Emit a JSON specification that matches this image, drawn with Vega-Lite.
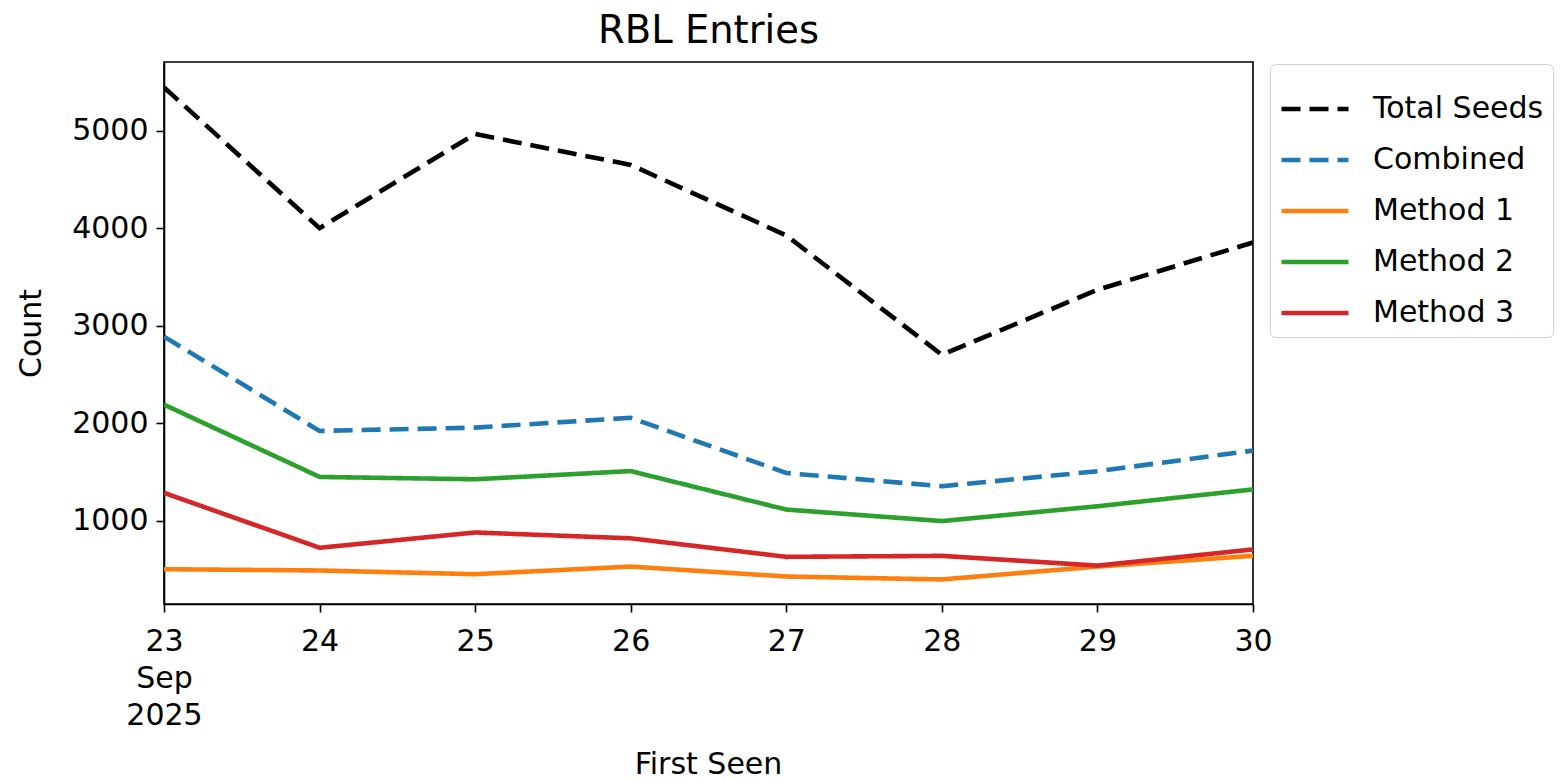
{
  "$schema": "https://vega.github.io/schema/vega-lite/v6.json",
  "autosize": {"type": "none"},
  "padding": {"left": 164, "top": 62, "right": 315, "bottom": 175},
  "width": 1089,
  "height": 542,
  "background": "white",
  "title": {
    "text": "RBL Entries",
    "font": "DejaVu Sans",
    "fontSize": 38.5,
    "fontWeight": "normal",
    "color": "black",
    "anchor": "middle",
    "offset": 11
  },
  "config": {
    "font": "DejaVu Sans",
    "view": {"stroke": "black", "strokeWidth": 1.6},
    "axis": {
      "grid": false,
      "domainColor": "black",
      "domainWidth": 1.6,
      "tickColor": "black",
      "tickWidth": 1.6,
      "tickSize": 8,
      "labelFont": "DejaVu Sans",
      "labelFontSize": 30,
      "labelColor": "black",
      "titleFont": "DejaVu Sans",
      "titleFontSize": 30,
      "titleFontWeight": "normal",
      "titleColor": "black"
    },
    "legend": {
      "orient": "none",
      "legendX": 1106,
      "legendY": 2,
      "padding": 9,
      "strokeColor": "#d0d0d0",
      "fillColor": "white",
      "cornerRadius": 5,
      "labelFont": "DejaVu Sans",
      "labelFontSize": 30,
      "labelColor": "black",
      "labelLimit": 400,
      "symbolType": "stroke",
      "symbolSize": 4489,
      "labelOffset": 22,
      "rowPadding": -24
    }
  },
  "data": {
    "values": [
      {"day": 23, "series": "Total Seeds", "count": 5448},
      {"day": 24, "series": "Total Seeds", "count": 4003},
      {"day": 25, "series": "Total Seeds", "count": 4969},
      {"day": 26, "series": "Total Seeds", "count": 4652},
      {"day": 27, "series": "Total Seeds", "count": 3928},
      {"day": 28, "series": "Total Seeds", "count": 2703},
      {"day": 29, "series": "Total Seeds", "count": 3370},
      {"day": 30, "series": "Total Seeds", "count": 3856},
      {"day": 23, "series": "Combined", "count": 2890},
      {"day": 24, "series": "Combined", "count": 1922},
      {"day": 25, "series": "Combined", "count": 1956},
      {"day": 26, "series": "Combined", "count": 2057},
      {"day": 27, "series": "Combined", "count": 1490},
      {"day": 28, "series": "Combined", "count": 1355},
      {"day": 29, "series": "Combined", "count": 1508},
      {"day": 30, "series": "Combined", "count": 1720},
      {"day": 23, "series": "Method 1", "count": 503},
      {"day": 24, "series": "Method 1", "count": 490},
      {"day": 25, "series": "Method 1", "count": 452},
      {"day": 26, "series": "Method 1", "count": 530},
      {"day": 27, "series": "Method 1", "count": 428},
      {"day": 28, "series": "Method 1", "count": 398},
      {"day": 29, "series": "Method 1", "count": 530},
      {"day": 30, "series": "Method 1", "count": 640},
      {"day": 23, "series": "Method 2", "count": 2192},
      {"day": 24, "series": "Method 2", "count": 1450},
      {"day": 25, "series": "Method 2", "count": 1426},
      {"day": 26, "series": "Method 2", "count": 1510},
      {"day": 27, "series": "Method 2", "count": 1115},
      {"day": 28, "series": "Method 2", "count": 997},
      {"day": 29, "series": "Method 2", "count": 1149},
      {"day": 30, "series": "Method 2", "count": 1322},
      {"day": 23, "series": "Method 3", "count": 1287},
      {"day": 24, "series": "Method 3", "count": 723},
      {"day": 25, "series": "Method 3", "count": 880},
      {"day": 26, "series": "Method 3", "count": 820},
      {"day": 27, "series": "Method 3", "count": 630},
      {"day": 28, "series": "Method 3", "count": 640},
      {"day": 29, "series": "Method 3", "count": 540},
      {"day": 30, "series": "Method 3", "count": 706}
    ]
  },
  "mark": {"type": "line", "clip": true},
  "encoding": {
    "x": {
      "field": "day",
      "type": "quantitative",
      "scale": {"domain": [23, 30], "nice": false, "zero": false},
      "axis": {
        "title": "First Seen",
        "values": [23, 24, 25, 26, 27, 28, 29, 30],
        "labelExpr": "datum.value == 23 ? ['23', 'Sep', '2025'] : datum.label",
        "labelLineHeight": 37,
        "labelPadding": 14,
        "labelFlush": false,
        "labelOverlap": false,
        "titleX": 544,
        "titleY": 169,
        "titleBaseline": "alphabetic",
        "titleAlign": "center"
      }
    },
    "y": {
      "field": "count",
      "type": "quantitative",
      "scale": {"domain": [146, 5708], "nice": false, "zero": false},
      "axis": {
        "title": "Count",
        "values": [1000, 2000, 3000, 4000, 5000],
        "format": "d",
        "labelPadding": 8,
        "titleAngle": -90,
        "titleX": -124,
        "titleY": 271,
        "titleAlign": "center",
        "titleBaseline": "alphabetic"
      }
    },
    "color": {
      "field": "series",
      "type": "nominal",
      "title": null,
      "scale": {
        "domain": ["Total Seeds", "Combined", "Method 1", "Method 2", "Method 3"],
        "range": ["#000000", "#1f77b4", "#ff7f0e", "#2ca02c", "#d62728"]
      }
    },
    "strokeDash": {
      "field": "series",
      "type": "nominal",
      "title": null,
      "scale": {
        "domain": ["Total Seeds", "Combined", "Method 1", "Method 2", "Method 3"],
        "range": [[19, 9], [19, 9], [1, 0], [1, 0], [1, 0]]
      }
    },
    "strokeWidth": {
      "field": "series",
      "type": "nominal",
      "title": null,
      "scale": {
        "domain": ["Total Seeds", "Combined", "Method 1", "Method 2", "Method 3"],
        "range": [4.6, 4.6, 1.8, 1.8, 1.8]
      }
    }
  }
}
